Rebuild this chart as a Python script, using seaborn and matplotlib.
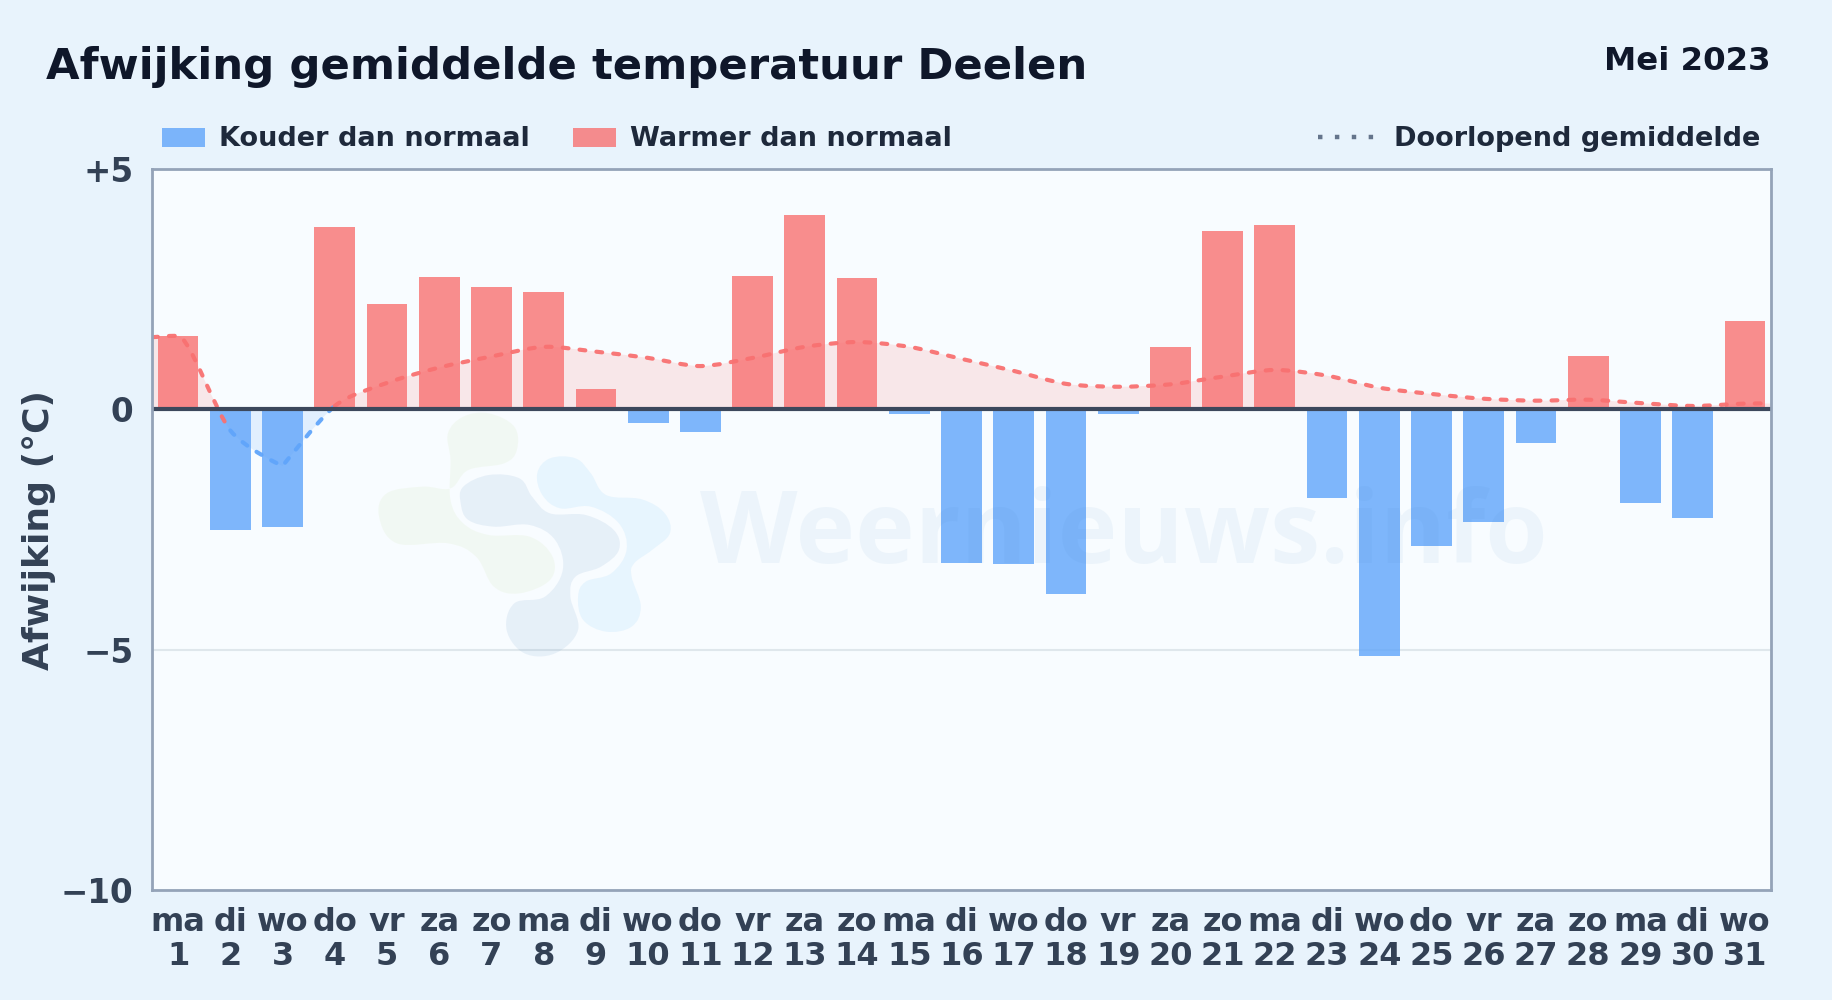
import numpy as np
import pandas as pd
import matplotlib
matplotlib.use('Agg')
import matplotlib.pyplot as plt
import seaborn as sns
from matplotlib.lines import Line2D
from matplotlib.patches import Patch, PathPatch, Rectangle
from matplotlib.path import Path

# Data
weekdays = ['ma', 'di', 'wo', 'do', 'vr', 'za', 'zo'] * 4 + ['ma', 'di', 'wo']
days = list(range(1, 32))
deviation = [1.53, -2.5, -2.45, 3.8, 2.2, 2.75, 2.55, 2.45, 0.43, -0.28, -0.48,
             2.78, 4.05, 2.73, -0.1, -3.2, -3.22, -3.85, -0.1, 1.3, 3.72, 3.83,
             -1.85, -5.13, -2.85, -2.35, -0.7, 1.1, -1.95, -2.27, 1.83]
running_mean = [1.53, -0.44, -1.18, 0.07, 0.55, 0.87, 1.1, 1.3, 1.2, 1.07, 0.9,
                1.07, 1.3, 1.4, 1.3, 1.05, 0.8, 0.53, 0.47, 0.52, 0.68, 0.82,
                0.7, 0.45, 0.32, 0.22, 0.18, 0.2, 0.13, 0.07, 0.12]
yticks = [5, 0, -5, -10]
ytick_labels = ['+5', '0', '\u22125', '\u221210']

BLUE = '#60a5fa'
RED = '#f87171'
FIG_W, FIG_H = 1832, 1000


def smooth_path(xs, ys, closed=False, tension=0.2, flat=(), corner=()):
    # catmull-rom style bezier through the points
    # flat = indices with a level tangent, corner = indices with no tangent at all
    pts = np.column_stack([xs, ys])
    n = len(pts)
    tangents = []
    for i in range(n):
        if closed:
            t = (pts[(i + 1) % n] - pts[i - 1]) * tension
        else:
            t = (pts[min(i + 1, n - 1)] - pts[max(i - 1, 0)]) * tension
        if i in flat:
            t = t * [1, 0]
        if i in corner:
            t = t * 0
        tangents.append(t)
    verts, codes = [pts[0]], [Path.MOVETO]
    for i in range(n if closed else n - 1):
        j = (i + 1) % n
        verts += [pts[i] + tangents[i], pts[j] - tangents[j], pts[j]]
        codes += [Path.CURVE4] * 3
    return verts, codes


sns.set_theme(style='white')
plt.rcParams['font.family'] = 'DejaVu Sans'

fig = plt.figure(figsize=(FIG_W / 100, FIG_H / 100), dpi=100, facecolor='#e8f3fc')
ax = fig.add_axes([152 / FIG_W, 1 - 890 / FIG_H, (1771 - 152) / FIG_W, (890 - 169) / FIG_H])
ax.set_facecolor('#f8fcff')

df = pd.DataFrame({'day': days, 'value': deviation})
df['kind'] = np.where(df['value'] < 0, 'cold', 'warm')
sns.barplot(data=df, x='day', y='value', hue='kind', dodge=False, width=0.78,
            palette={'cold': BLUE, 'warm': RED}, alpha=0.8, saturation=1,
            linewidth=0, edgecolor='none', legend=False, ax=ax, zorder=3)

ax.set_xlim(-0.5, 30.5)
ax.set_ylim(-10, 5)

# running mean, runs on to both edges of the plot
line_x = [-0.5] + [d - 1 for d in days] + [30.5]
line_y = [running_mean[0] - 0.03] + running_mean + [running_mean[-1]]
verts, codes = smooth_path(line_x, line_y, tension=0.14, flat=(1,), corner=(3,))

fill_verts = verts + [(30.5, 0), (-0.5, 0), verts[0]]
fill_codes = codes + [Path.LINETO, Path.LINETO, Path.CLOSEPOLY]
for color, clip_y, clip_h in [(RED, 0, 5), (BLUE, -10, 10)]:
    fill = PathPatch(Path(fill_verts, fill_codes), fc=color, ec='none', alpha=0.15, zorder=2)
    ax.add_patch(fill)
    fill.set_clip_path(Rectangle((-0.5, clip_y), 31, clip_h, transform=ax.transData))

# segments 0-2 red, 2-4 blue, rest red (index 0 is the edge point)
dash = (0, (1.4, 2.67))
for start, end, color in [(0, 2, RED), (2, 4, BLUE), (4, 32, RED)]:
    seg = list(verts[start * 3:end * 3 + 1])
    seg_codes = [Path.MOVETO] + [Path.CURVE4] * (end - start) * 3
    ax.add_patch(PathPatch(Path(seg, seg_codes), fc='none', ec=color, lw=3,
                           linestyle=dash, capstyle='round', alpha=0.95, zorder=5))

ax.axhline(0, color='#3c485c', lw=3, zorder=6)
ax.axhline(-5, color='#dfe7ec', lw=1.5, zorder=1)

ax.set_yticks(yticks, ytick_labels)
ax.set_xticks(range(31), [f'{w}\n{d}' for w, d in zip(weekdays, days)])
ax.tick_params(axis='y', length=0, labelsize=23.5, labelcolor='#334155', pad=13.5)
ax.tick_params(axis='x', length=0, labelsize=23, labelcolor='#334155', pad=12.5)
for lab in ax.get_xticklabels() + ax.get_yticklabels():
    lab.set_fontweight('bold')
for lab in ax.get_xticklabels():
    lab.set_linespacing(1.12)
ax.set_xlabel('')
ax.set_ylabel('Afwijking (\u00b0C)', fontsize=26, fontweight='bold', color='#334155')
ax.yaxis.set_label_coords((56 - 152) / (1771 - 152), 0.5)
for spine in ax.spines.values():
    spine.set_visible(True)
    spine.set_color('#94a3b8')
    spine.set_linewidth(2)
    spine.set_zorder(7)

fig.text(46 / FIG_W, 1 - 67.5 / FIG_H, 'Afwijking gemiddelde temperatuur Deelen', fontsize=31.2,
         fontweight='bold', color='#0f172a', va='center', ha='left')
fig.text(1771 / FIG_W, 1 - 61.5 / FIG_H, 'Mei 2023', fontsize=23.3, fontweight='bold',
         color='#0f172a', va='center', ha='right')

# legends
leg_font = {'size': 19.5, 'weight': 'bold'}
left_handles = [Patch(fc=BLUE, alpha=0.8, ec='none', label='Kouder dan normaal'),
                Patch(fc=RED, alpha=0.8, ec='none', label='Warmer dan normaal')]
leg1 = fig.legend(handles=left_handles, loc='center left', bbox_to_anchor=(162 / FIG_W, 1 - 139.5 / FIG_H),
                  ncol=2, frameon=False, prop=leg_font, borderpad=0, borderaxespad=0,
                  handlelength=1.6, handleheight=0.7, handletextpad=0.5, columnspacing=1.6,
                  labelcolor='#1e293b')
right_handle = [Line2D([], [], color='#64748b', lw=3.2, linestyle=(0, (1, 2.8)),
                       dash_capstyle='butt', label='Doorlopend gemiddelde')]
leg2 = fig.legend(handles=right_handle, loc='center right', bbox_to_anchor=(1760 / FIG_W, 1 - 139.5 / FIG_H),
                  frameon=False, prop=leg_font, borderpad=0, borderaxespad=0,
                  handlelength=2.1, handletextpad=0.7, labelcolor='#1e293b')

# watermark: logo blobs (crop coords, see to_px)
green_blob = [(290, 100), (320, 50), (370, 40), (420, 80), (425, 150), (400, 190), (330, 210),
              (295, 265), (240, 260), (170, 280), (155, 350), (190, 430), (290, 430), (345, 470),
              (380, 560), (430, 580), (490, 540), (495, 470), (450, 410), (370, 405), (320, 370),
              (295, 300), (295, 180)]
navy_blob = [(320, 260), (370, 225), (430, 235), (455, 290), (490, 340), (560, 345), (615, 390),
             (625, 450), (590, 500), (540, 530), (530, 590), (545, 690), (500, 760), (440, 760),
             (405, 690), (420, 610), (480, 590), (515, 510), (500, 420), (450, 375), (380, 380),
             (330, 360), (315, 310)]
sky_blob = [(465, 220), (490, 175), (540, 175), (570, 220), (600, 285), (670, 298), (715, 340),
            (725, 400), (690, 450), (655, 490), (650, 530), (668, 620), (650, 680), (600, 695),
            (555, 660), (545, 590), (560, 545), (610, 520), (640, 450), (625, 370), (570, 320),
            (510, 325), (475, 285)]


def to_px(blob):
    return [(300 + x / 1.96, FIG_H - (400 + y / 3)) for x, y in blob]


for blob, color, a in [(green_blob, '#b5d67a', 0.09), (navy_blob, '#3b7ab8', 0.09), (sky_blob, '#58b8fa', 0.10)]:
    px = np.array(to_px(blob))
    v, c = smooth_path(px[:, 0], px[:, 1], closed=True, tension=0.18)
    fig.add_artist(PathPatch(Path(v, c), fc=color, ec='none', alpha=a, transform=None, zorder=8))

fig.text(1124 / FIG_W, 1 - 537 / FIG_H, 'Weernieuws.info', fontsize=72.6, family='Open Sans', fontweight='bold',
         color='#3b82c4', alpha=0.06, ha='center', va='center', zorder=8)

fig.savefig('out.png', dpi=100, facecolor=fig.get_facecolor())
